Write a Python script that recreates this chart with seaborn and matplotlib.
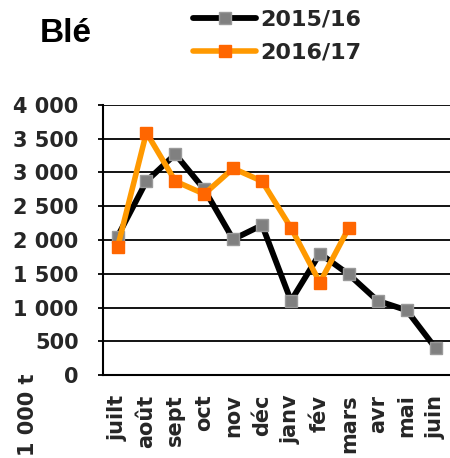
import matplotlib
matplotlib.use("Agg")
import matplotlib.pyplot as plt
from matplotlib.ticker import FuncFormatter
import seaborn as sns
import pandas as pd

# data (1 000 t)
months = ['juilt', 'août', 'sept', 'oct', 'nov', 'déc',
          'janv', 'fév', 'mars', 'avr', 'mai', 'juin']
wheat_1516 = [2050, 2870, 3270, 2750, 2010, 2220, 1100, 1800, 1490, 1100, 960, 400]
wheat_1617 = [1890, 3590, 2870, 2680, 3060, 2870, 2180, 1370, 2180]
y_ticks = [0, 500, 1000, 1500, 2000, 2500, 3000, 3500, 4000]

df_1516 = pd.DataFrame({'mois': months, 'valeur': wheat_1516})
df_1617 = pd.DataFrame({'mois': months[:len(wheat_1617)], 'valeur': wheat_1617})

sns.set_style('white')
plt.rcParams['font.family'] = ['DejaVu Sans']
plt.rcParams['font.weight'] = 'bold'

fig = plt.figure(figsize=(4.5, 4.58), dpi=100)
ax = fig.add_axes([0.229, 0.181, 0.771, 0.590])

sns.lineplot(data=df_1516, x='mois', y='valeur', sort=False, ax=ax,
             color='black', lw=4.2, marker='s', markersize=8,
             markerfacecolor='#808080', markeredgecolor='#9a9a9a',
             markeredgewidth=1, label='2015/16', zorder=3)
sns.lineplot(data=df_1617, x='mois', y='valeur', sort=False, ax=ax,
             color='#FF9900', lw=4.0, marker='s', markersize=8,
             markerfacecolor='#FF6600', markeredgecolor='#FF6600',
             markeredgewidth=1, label='2016/17', zorder=4)

ax.set_xlim(-0.5, len(months) - 0.5)
ax.set_ylim(0, 4000)
ax.set_yticks(y_ticks)
ax.yaxis.set_major_formatter(FuncFormatter(lambda v, p: f"{v:,.0f}".replace(",", " ")))
ax.set_xlabel('')
ax.set_ylabel('')

ax.yaxis.grid(True, color='black', lw=1.3)
ax.xaxis.grid(False)
ax.set_axisbelow(True)
for s in ['top', 'right']:
    ax.spines[s].set_visible(False)
for s in ['left', 'bottom']:
    ax.spines[s].set_color('black')
    ax.spines[s].set_linewidth(1.5)

ax.tick_params(axis='y', which='major', direction='out', length=3.5, width=1.3,
               color='black', left=True, labelsize=15, pad=14)
ax.tick_params(axis='x', which='major', length=0, labelsize=15, pad=14)
plt.setp(ax.get_xticklabels(), rotation=90, fontweight='bold')
plt.setp(ax.get_yticklabels(), fontweight='bold')

leg = ax.legend(loc='upper left', bbox_to_anchor=(0.425, 0.984),
                bbox_transform=fig.transFigure, frameon=False,
                prop={'size': 16, 'weight': 'bold'}, handlelength=2.8,
                handletextpad=0.22, labelspacing=0.58, borderpad=0.1,
                borderaxespad=0)

fig.text(0.089, 0.926, 'Blé', fontsize=24, fontweight='bold', va='center',
         family='Liberation Sans', color='black')
fig.text(0.062, 1 - 373 / 458, '1 000 t', rotation=90, fontsize=15,
         fontweight='bold', ha='center', va='top')

fig.savefig('out.png', dpi=100)
